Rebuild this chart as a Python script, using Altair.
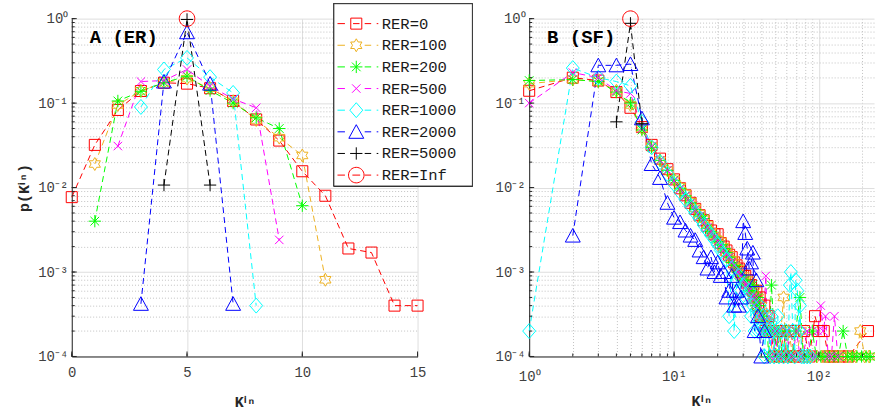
import altair as alt
import pandas as pd

labels = ["RER=0", "RER=100", "RER=200", "RER=500", "RER=1000", "RER=2000", "RER=5000", "RER=Inf"]
colors = ["#ff0000", "#edb120", "#00ff00", "#ff00ff", "#00ffff", "#0000ff", "#000000", "#ff0000"]

# ---------------- A: ER network, in-degree distribution ----------------
er_k_rer0 = list(range(0, 16))
er_p_rer0 = [0.0077, 0.032, 0.083, 0.139, 0.174, 0.17, 0.15, 0.106, 0.064, 0.036,
             0.0156, 0.008, 0.0019, 0.0017, 0.0004, 0.0004]
er_k_rer100 = list(range(1, 12))
er_p_rer100 = [0.019, 0.095, 0.14, 0.175, 0.195, 0.15, 0.105, 0.063, 0.039, 0.024, 0.00081]
er_k_rer200 = list(range(1, 11))
er_p_rer200 = [0.0040, 0.106, 0.138, 0.175, 0.208, 0.141, 0.1, 0.067, 0.05, 0.0061]
er_k_rer500 = list(range(2, 10))
er_p_rer500 = [0.031, 0.18, 0.185, 0.25, 0.159, 0.112, 0.088, 0.0024]
er_k_rer1000 = list(range(3, 9))
er_p_rer1000 = [0.09, 0.25, 0.343, 0.203, 0.132, 0.0004]
er_k_rer2000 = list(range(3, 8))
er_p_rer2000 = [0.00042, 0.18, 0.69, 0.17, 0.00042]
er_k_rer5000 = [4, 5, 6]
er_p_rer5000 = [0.0107, 0.978, 0.0107]
er_k_rerinf = [5]
er_p_rerinf = [1.0]

# ---------------- B: SF network, in-degree distribution ----------------
sf_k_rer0 = list(range(1, 41)) + [42, 43, 45, 47, 49, 51, 54, 57, 60, 64, 68, 73, 79, 86,
                                   94, 100, 108, 116, 125, 140, 160, 218]
sf_p_rer0 = [0.14, 0.2, 0.185, 0.135, 0.088, 0.052, 0.032, 0.022, 0.0165, 0.0125,
             0.0098, 0.0081, 0.0066, 0.0056, 0.0047, 0.0041, 0.0035, 0.0031, 0.0028, 0.0028,
             0.0022, 0.0020, 0.0018, 0.0016, 0.0015, 0.0013, 0.0012, 0.0011, 0.0010, 0.0009,
             0.0009, 0.0008, 0.0007, 0.0007, 0.0006, 0.0005, 0.0006, 0.0004, 0.0005, 0.0003,
             0.0004, 0.0002, 0.0003, 0.0002, 0.0001, 0.0002, 0.0001, 0.0002, 0.0001, 0.0002,
             0.0001, 0.0001, 0.0002, 0.0001, 0.0003, 0.0002, 0.0002, 0.0001, 0.0001, 0.0001,
             0.0001, 0.0002]
sf_k_rer100 = list(range(1, 42)) + [43, 44, 46, 48, 50, 53, 57, 59, 62, 66, 70, 75, 81, 88,
                                     97, 105, 113, 122, 132, 143, 155, 168, 180, 193, 207, 222]
sf_p_rer100 = [0.17, 0.19, 0.18, 0.14, 0.095, 0.05, 0.031, 0.021, 0.016, 0.0125,
               0.0102, 0.0085, 0.0068, 0.0057, 0.0049, 0.0042, 0.0036, 0.0030, 0.0027, 0.0024,
               0.0023, 0.0020, 0.0017, 0.0016, 0.0014, 0.0013, 0.0011, 0.0011, 0.0009, 0.0009,
               0.0008, 0.0007, 0.0008, 0.0006, 0.0005, 0.0006, 0.0004, 0.0005, 0.0003, 0.0004,
               0.0003,
               0.0002, 0.0003, 0.0002, 0.0001, 0.0002, 0.0001, 0.0005, 0.0001, 0.0002, 0.0001,
               0.0001, 0.0002, 0.0001, 0.0001, 0.0001, 0.0001, 0.0001, 0.0001, 0.0001, 0.0001,
               0.0001, 0.0001, 0.0001, 0.0002, 0.0001, 0.0001]
sf_k_rer200 = list(range(1, 42)) + [42, 44, 45, 47, 49, 51, 53, 56, 59, 62, 65, 69, 74, 78, 84,
                                     90, 96, 103, 110, 118, 127, 136, 147, 158, 170, 183, 197,
                                     212, 226]
sf_p_rer200 = [0.185, 0.19, 0.18, 0.135, 0.1, 0.048, 0.03, 0.021, 0.016, 0.0122,
               0.0098, 0.0080, 0.0066, 0.0055, 0.0046, 0.0043, 0.0033, 0.0030, 0.0026, 0.0023,
               0.0021, 0.0019, 0.0017, 0.0015, 0.0013, 0.0012, 0.0011, 0.0010, 0.0009, 0.0008,
               0.0008, 0.0007, 0.0006, 0.0006, 0.0007, 0.0005, 0.0004, 0.0005, 0.0004, 0.0003,
               0.0003,
               0.0002, 0.0002, 0.0001, 0.0007, 0.0002, 0.0001, 0.0002, 0.0001, 0.0002, 0.0001,
               0.0001, 0.0002, 0.0005, 0.0001, 0.0001, 0.0002, 0.0001, 0.0001, 0.0001, 0.0001,
               0.0001, 0.0001, 0.0002, 0.0001, 0.0001, 0.0001, 0.0001, 0.0001, 0.0001]
sf_k_rer500 = list(range(1, 42)) + [43, 44, 45, 46, 48, 50, 52, 54, 57, 60, 63, 66, 70, 74, 78,
                                     83, 88, 94, 98, 103, 107, 111, 116, 122, 128, 135]
sf_p_rer500 = [0.1, 0.23, 0.2, 0.14, 0.13, 0.05, 0.031, 0.021, 0.016, 0.012,
               0.0096, 0.0079, 0.0065, 0.0054, 0.0046, 0.0039, 0.0034, 0.0030, 0.0026, 0.0023,
               0.0021, 0.0018, 0.0016, 0.0015, 0.0013, 0.0012, 0.0010, 0.0010, 0.0009, 0.0008,
               0.0007, 0.0007, 0.0006, 0.0005, 0.0005, 0.0004, 0.0005, 0.0003, 0.0004, 0.0003,
               0.0002,
               0.0009, 0.0002, 0.0003, 0.0001, 0.0002, 0.0001, 0.0002, 0.0001, 0.0001, 0.0002,
               0.0001, 0.0001, 0.0002, 0.0001, 0.0001, 0.0002, 0.0001, 0.0001, 0.0002, 0.0004,
               0.0002, 0.0003, 0.0001, 0.0001, 0.0003, 0.0001]
sf_k_rer1000 = list(range(1, 42)) + [42, 43, 44, 45, 46, 47, 48, 49, 50, 52, 53, 55, 57, 59, 61,
                                      63, 64, 66, 68, 69, 71, 73, 74, 76, 79, 83, 87]
sf_p_rer1000 = [0.0002, 0.26, 0.2, 0.18, 0.16, 0.06, 0.03, 0.02, 0.0145, 0.011,
                0.0088, 0.0072, 0.0060, 0.0050, 0.0043, 0.0036, 0.0031, 0.0027, 0.0024, 0.0021,
                0.0018, 0.0016, 0.0014, 0.0003, 0.0011, 0.0002, 0.0008, 0.0009, 0.0006, 0.0007,
                0.0005, 0.0004, 0.0006, 0.0003, 0.0004, 0.0002, 0.0003, 0.0002, 0.0004, 0.0002,
                0.0003,
                0.0001, 0.0002, 0.0003, 0.0002, 0.0001, 0.0003, 0.0002, 0.0001, 0.0002,
                0.0003, 0.0001, 0.0002, 0.0001, 0.0002, 0.0001, 0.0007, 0.001, 0.0002, 0.0001,
                0.0008, 0.0006, 0.0002, 0.0004, 0.0001, 0.0001, 0.0001, 0.0001]
sf_k_rer2000 = list(range(2, 39)) + [40, 42]
sf_p_rer2000 = [0.0027, 0.28, 0.28, 0.29, 0.066, 0.019, 0.013, 0.0066, 0.0044,
                0.0039, 0.0031, 0.0027, 0.0024, 0.0018, 0.0015, 0.0011, 0.0015, 0.0010, 0.0013,
                0.0009, 0.0010, 0.0005, 0.0006, 0.0009, 0.0004, 0.0006, 0.0004, 0.0005, 0.0040,
                0.0029, 0.0019, 0.0011, 0.0013, 0.0017, 0.0002, 0.0008, 0.0003,
                0.0001, 0.0002]
sf_k_rer5000 = [4, 5, 6]
sf_p_rer5000 = [0.06, 0.88, 0.057]
sf_k_rerinf = [5]
sf_p_rerinf = [1.0]

# tick positions
y_ticks = [m * 10.0 ** e for e in range(-4, 0) for m in range(1, 10)] + [1.0]
y_major = [1e-4, 1e-3, 1e-2, 1e-1, 1.0]
x_er_ticks = [0, 5, 10, 15]
x_sf_ticks = [m * 10.0 ** e for e in range(0, 2) for m in range(1, 10)] + [100.0, 200.0]
x_sf_major = [1.0, 10.0, 100.0]

FONT = "Liberation Mono"
AXIS_COLOR = "#262626"


def frame(ks_list, ps_list):
    rows = []
    for lab, ks, ps in zip(labels, ks_list, ps_list):
        for k, p in zip(ks, ps):
            rows.append({"label": lab, "k": k, "p": p})
    return pd.DataFrame(rows)


er_df = frame(
    [er_k_rer0, er_k_rer100, er_k_rer200, er_k_rer500, er_k_rer1000, er_k_rer2000, er_k_rer5000, er_k_rerinf],
    [er_p_rer0, er_p_rer100, er_p_rer200, er_p_rer500, er_p_rer1000, er_p_rer2000, er_p_rer5000, er_p_rerinf],
)
sf_df = frame(
    [sf_k_rer0, sf_k_rer100, sf_k_rer200, sf_k_rer500, sf_k_rer1000, sf_k_rer2000, sf_k_rer5000, sf_k_rerinf],
    [sf_p_rer0, sf_p_rer100, sf_p_rer200, sf_p_rer500, sf_p_rer1000, sf_p_rer2000, sf_p_rer5000, sf_p_rerinf],
)
key_df = pd.DataFrame({"label": labels, "row": list(range(len(labels)))})

# marker outlines in unit coordinates (square, hexagram, asterisk, x, diamond, triangle, plus, circle)
marker_paths = [
    "M-0.85,-0.85L0.85,-0.85L0.85,0.85L-0.85,0.85Z",
    "M0,-1L0.29,-0.5L0.87,-0.5L0.58,0L0.87,0.5L0.29,0.5L0,1L-0.29,0.5L-0.87,0.5L-0.58,0L-0.87,-0.5L-0.29,-0.5Z",
    "M-0.95,0L0.95,0M0,-0.95L0,0.95M-0.67,-0.67L0.67,0.67M-0.67,0.67L0.67,-0.67",
    "M-0.65,-0.65L0.65,0.65M-0.65,0.65L0.65,-0.65",
    "M0,-1.15L1,0L0,1.15L-1,0Z",
    "M0,-1.1L1.15,1L-1.15,1Z",
    "M-0.95,0L0.95,0M0,-0.95L0,0.95",
    "M1.2,0A1.2,1.2,0,1,1,-1.2,0A1.2,1.2,0,1,1,1.2,0Z",
]
# key glyphs: marker plus the dashed line segments on either side
key_line = "M-2.9,0L-1.75,0M1.3,0L2.3,0M3.15,0L3.4,0"
inner_line = ["M-0.5,0L0.5,0", "", "", "", "", "", "", "M-0.6,0L0.6,0"]
key_paths = [m + extra + key_line for m, extra in zip(marker_paths, inner_line)]

is_decade = "abs(log(datum.value)/LN10 - round(log(datum.value)/LN10)) < 0.001"
ex = "round(log(datum.value)/LN10)"
pow_label = (
    f"({is_decade}) ? ({ex} == 0 ? '10⁰' : {ex} == 1 ? '10¹' : {ex} == 2 ? '10²' : "
    f"{ex} == -1 ? '10⁻¹' : {ex} == -2 ? '10⁻²' : {ex} == -3 ? '10⁻³' : '10⁻⁴') : ''"
)
grid_dash = {"condition": {"test": is_decade, "value": []}, "value": [1, 2]}
grid_color = {"condition": {"test": is_decade, "value": "#dedede"}, "value": "#c2c2c2"}

W_L, W_R, H = 347, 346, 339

axis_common = dict(
    labelFont=FONT, labelFontSize=14, labelColor="#404040",
    titleFont=FONT, titleFontSize=15, titleFontWeight="bold", titleColor=AXIS_COLOR,
    domainColor=AXIS_COLOR, domainWidth=1, ticks=False, tickSize=0,
    gridWidth=1,
)

y_axis_left = alt.Axis(values=y_ticks, labelExpr=pow_label, gridDash=grid_dash, gridColor=grid_color,
                       title="p(Kⁱⁿ)", labelPadding=4, titlePadding=6, labelFlush=False,
                       **axis_common)
y_axis_right = alt.Axis(values=y_ticks, labelExpr=pow_label, gridDash=grid_dash, gridColor=grid_color,
                        title=None, labelPadding=4, labelFlush=False, **axis_common)
x_axis_left = alt.Axis(values=x_er_ticks, gridColor="#dedede", title="Kⁱⁿ", labelPadding=9,
                       titlePadding=15, labelFlush=False, **axis_common)
x_axis_right = alt.Axis(values=x_sf_ticks, labelExpr=pow_label, gridDash=grid_dash, gridColor=grid_color,
                        title="Kⁱⁿ", labelPadding=13, titlePadding=10, labelFlush=False, **axis_common)

y_scale = alt.Scale(type="log", domain=[1e-4, 1], nice=False)
x_er_scale = alt.Scale(domain=[0, 15], nice=False, zero=False)
x_sf_scale = alt.Scale(type="log", domain=[1, 240], nice=False)

color_scale = alt.Scale(domain=labels, range=colors)
shape_scale = alt.Scale(domain=labels, range=marker_paths)


def panel(df, x_scale, x_axis, y_axis, width, tag, x_tick_values, x_tick_major, with_key):
    x_enc = alt.X("k:Q", scale=x_scale, axis=x_axis)
    y_enc = alt.Y("p:Q", scale=y_scale, axis=y_axis)
    base = alt.Chart(df)
    lines = base.mark_line(strokeDash=[6, 4], strokeWidth=1).encode(
        x=x_enc, y=y_enc,
        color=alt.Color("label:N", scale=color_scale, legend=None),
        order=alt.Order("k:Q"),
    )
    points = base.mark_point(filled=False, size=169, strokeWidth=1, opacity=1).encode(
        x=x_enc, y=y_enc,
        color=alt.Color("label:N", scale=color_scale, legend=None),
        shape=alt.Shape("label:N", scale=shape_scale, legend=None),
    )
    # inward tick marks
    yt_minor = alt.Chart(pd.DataFrame({"v": y_ticks})).mark_rule(color=AXIS_COLOR, strokeWidth=1).encode(
        y=alt.Y("v:Q", scale=y_scale, axis=y_axis), x=alt.value(0), x2=alt.value(3))
    yt_major = alt.Chart(pd.DataFrame({"v": y_major})).mark_rule(color=AXIS_COLOR, strokeWidth=1).encode(
        y=alt.Y("v:Q", scale=y_scale, axis=y_axis), x=alt.value(0), x2=alt.value(5))
    xt_minor = alt.Chart(pd.DataFrame({"v": x_tick_values})).mark_rule(color=AXIS_COLOR, strokeWidth=1).encode(
        x=alt.X("v:Q", scale=x_scale, axis=x_axis), y=alt.value(H), y2=alt.value(H - 3))
    xt_major = alt.Chart(pd.DataFrame({"v": x_tick_major})).mark_rule(color=AXIS_COLOR, strokeWidth=1).encode(
        x=alt.X("v:Q", scale=x_scale, axis=x_axis), y=alt.value(H), y2=alt.value(H - 5))
    tag_text = alt.Chart(pd.DataFrame({"t": [tag]})).mark_text(
        font=FONT, fontSize=19, fontWeight="bold", color="#000000", align="left", baseline="alphabetic"
    ).encode(text="t:N", x=alt.value(18), y=alt.value(24))
    data_layers = alt.layer(lines, points, yt_minor, yt_major, xt_minor, xt_major, tag_text)
    if not with_key:
        return data_layers.properties(width=width, height=H)

    # key box in the upper right corner, one row per series
    row_y = alt.Y("row:Q", scale=alt.Scale(domain=[0, len(labels) - 1], range=[5, 157]), axis=None)
    key_base = alt.Chart(key_df)
    key_box = key_base.mark_rect(fill="white", stroke="#333333", strokeWidth=1).encode(
        x=alt.value(263), x2=alt.value(402), y=alt.value(-15), y2=alt.value(168))
    key_marks = key_base.mark_point(filled=False, size=169, strokeWidth=1, opacity=1).encode(
        x=alt.value(285.5), y=row_y,
        color=alt.Color("label:N", scale=color_scale, legend=None),
        shape=alt.Shape("label:N", scale=alt.Scale(domain=labels, range=key_paths), legend=None),
    )
    key_text = key_base.mark_text(font=FONT, fontSize=15.6, color="#1a1a1a", align="left",
                                  baseline="middle").encode(
        x=alt.value(311), y=row_y, text="label:N")
    key = alt.layer(key_box, key_marks, key_text)
    return alt.layer(data_layers, key).resolve_scale(
        y="independent", shape="independent").properties(width=width, height=H)


left = panel(er_df, x_er_scale, x_axis_left, y_axis_left, W_L, "A (ER)", x_er_ticks, x_er_ticks, True)
right = panel(sf_df, x_sf_scale, x_axis_right, y_axis_right, W_R, "B (SF)", x_sf_ticks, x_sf_major, False)

chart = alt.hconcat(left, right, spacing=112, bounds="flush").properties(
    padding={"left": 16, "top": 2, "right": -4, "bottom": 0},
    background="white",
).configure_view(strokeWidth=0)

chart.save("out.html", embed_options={"renderer": "svg", "actions": False})
